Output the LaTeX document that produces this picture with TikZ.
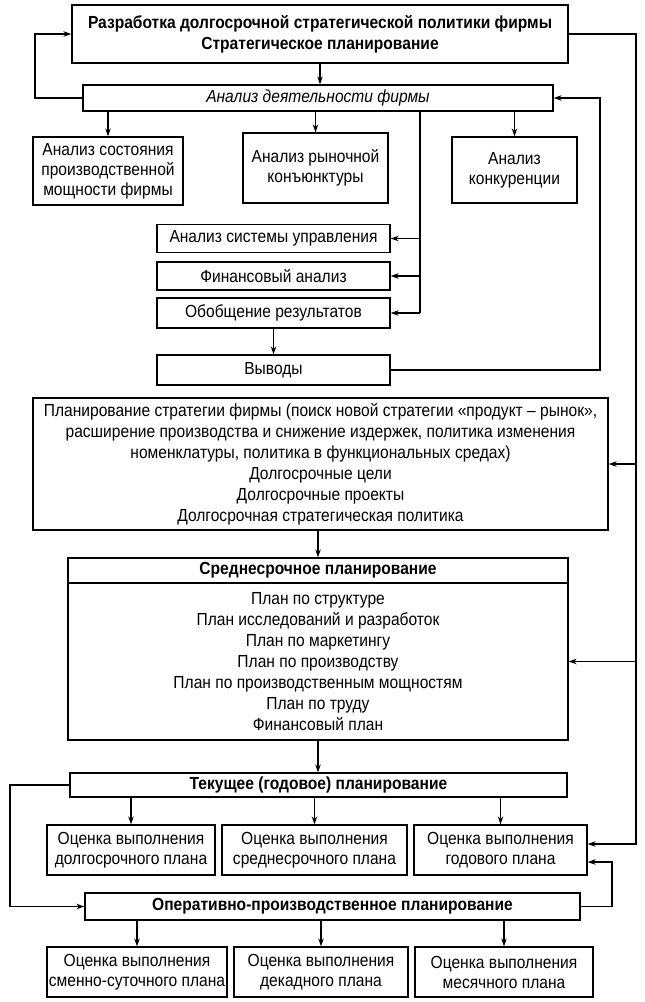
\documentclass[tikz,border=0pt]{standalone}
\usepackage{fontspec}
\setmainfont{Liberation Sans}[FakeStretch=0.89]
\usetikzlibrary{arrows.meta,calc}
\tikzset{
  box/.style={draw, line width=1.3pt, inner sep=0pt, align=center, font=\fontsize{17.5}{21}\selectfont},
  hbox/.style={box, font=\fontsize{17.5}{21}\selectfont\bfseries},
  arr/.style={line width=1.2pt, -{Stealth[length=8pt,width=5.5pt]}},
  ln/.style={line width=1.2pt},
}
\begin{document}
\begin{tikzpicture}[x=1pt,y=-1pt]
\useasboundingbox (0,0) rectangle (645,1002);
% top
\node[hbox, minimum width=496, minimum height=58] (top) at (320,34) {Разработка долгосрочной стратегической политики фирмы\\Стратегическое планирование};
\node[box, minimum width=470, minimum height=26, font=\fontsize{17.5}{21}\selectfont\itshape] (anal) at (318,98) {Анализ деятельности фирмы};
\node[box, minimum width=150, minimum height=68, font=\fontsize{17.5}{20}\selectfont] (a1) at (108,171) {Анализ состояния\\производственной\\мощности фирмы};
\node[box, minimum width=145, minimum height=70, font=\fontsize{17.5}{20}\selectfont] (a2) at (315.5,168) {Анализ рыночной\\конъюнктуры};
\node[box, minimum width=125, minimum height=66, font=\fontsize{17.5}{20}\selectfont] (a3) at (514.5,170) {Анализ\\конкуренции};
\node[box, minimum width=233, minimum height=28] (s1) at (273.5,238.5) {Анализ системы управления};
\node[box, minimum width=233, minimum height=28] (s2) at (273.5,276) {Финансовый анализ};
\node[box, minimum width=233, minimum height=30] (s3) at (273.5,313) {Обобщение результатов};
\node[box, minimum width=233, minimum height=30] (s4) at (273.5,370) {Выводы};
\node[box, minimum width=575, minimum height=132] (plan) at (320.5,464) {Планирование стратегии фирмы (поиск новой стратегии «продукт – рынок»,\\расширение производства и снижение издержек, политика изменения\\номенклатуры, политика в функциональных средах)\\Долгосрочные цели\\Долгосрочные проекты\\Долгосрочная стратегическая политика};
\node[hbox, minimum width=500, minimum height=25] (midh) at (318,570.5) {Среднесрочное планирование};
\node[box, minimum width=500, minimum height=157] (midb) at (318,661.5) {План по структуре\\План исследований и разработок\\План по маркетингу\\План по производству\\План по производственным мощностям\\План по труду\\Финансовый план};
\node[hbox, minimum width=497, minimum height=24] (cur) at (318.5,785) {Текущее (годовое) планирование};
\node[box, minimum width=168, minimum height=50, font=\fontsize{17.5}{20}\selectfont] (r1) at (131,850) {Оценка выполнения\\долгосрочного плана};
\node[box, minimum width=185, minimum height=50, font=\fontsize{17.5}{20}\selectfont] (r2) at (314.5,850) {Оценка выполнения\\среднесрочного плана};
\node[box, minimum width=173, minimum height=50, font=\fontsize{17.5}{20}\selectfont] (r3) at (500.5,850) {Оценка выполнения\\годового плана};
\node[hbox, minimum width=495, minimum height=27] (oper) at (332.5,906.5) {Оперативно-производственное планирование};
\node[box, minimum width=180, minimum height=50, font=\fontsize{17.5}{20}\selectfont] (b1) at (137,972) {Оценка выполнения\\сменно-суточного плана};
\node[box, minimum width=174, minimum height=50, font=\fontsize{17.5}{20}\selectfont] (b2) at (321,972) {Оценка выполнения\\декадного плана};
\node[box, minimum width=178, minimum height=50, font=\fontsize{17.5}{20}\selectfont] (b3) at (504,972) {Оценка выполнения\\месячного плана};
% helper coordinates
\coordinate (lx) at (35,0);
\coordinate (rx) at (636,0);
\coordinate (vx) at (600,0);
\coordinate (mx) at (420,0);
\coordinate (llx) at (10,0);
\coordinate (ox) at (612,0);
% connectors
\draw[arr] (top.south) -- (top.south |- anal.north);
\draw[arr] (anal.west) -| (lx |- top.west) -- (top.west);
\draw[arr] (top.east) -| ($(rx |- r3.east)+(0,-6)$) -- ($(r3.east)+(0,-6)$);
\draw[arr] (rx |- plan.east) -- (plan.east);
\draw[arr] (rx |- midb.east) -- (midb.east);
\draw[arr] (a1.north |- anal.south) -- (a1.north);
\draw[arr] (a2.north |- anal.south) -- (a2.north);
\draw[arr] (a3.north |- anal.south) -- (a3.north);
\draw[ln] (mx |- anal.south) -- (mx |- s3.east);
\draw[arr] (mx |- s1.east) -- (s1.east);
\draw[arr] (mx |- s2.east) -- (s2.east);
\draw[arr] (mx |- s3.east) -- (s3.east);
\draw[arr] (s3.south) -- (s4.north);
\draw[arr] (s4.east) -| (vx |- anal.east) -- (anal.east);
\draw[arr] (plan.south -| midh.north) -- (midh.north);
\draw[arr] (midb.south) -- (midb.south |- cur.north);
\draw[arr] (cur.west) -| (llx |- oper.west) -- (oper.west);
\draw[arr] (r1.north |- cur.south) -- (r1.north);
\draw[arr] (r2.north |- cur.south) -- (r2.north);
\draw[arr] (r3.north |- cur.south) -- (r3.north);
\draw[arr] (oper.east) -| ($(ox |- r3.east)+(0,12)$) -- ($(r3.east)+(0,12)$);
\draw[arr] (b1.north |- oper.south) -- (b1.north);
\draw[arr] (b2.north |- oper.south) -- (b2.north);
\draw[arr] (b3.north |- oper.south) -- (b3.north);
\end{tikzpicture}
\end{document}
